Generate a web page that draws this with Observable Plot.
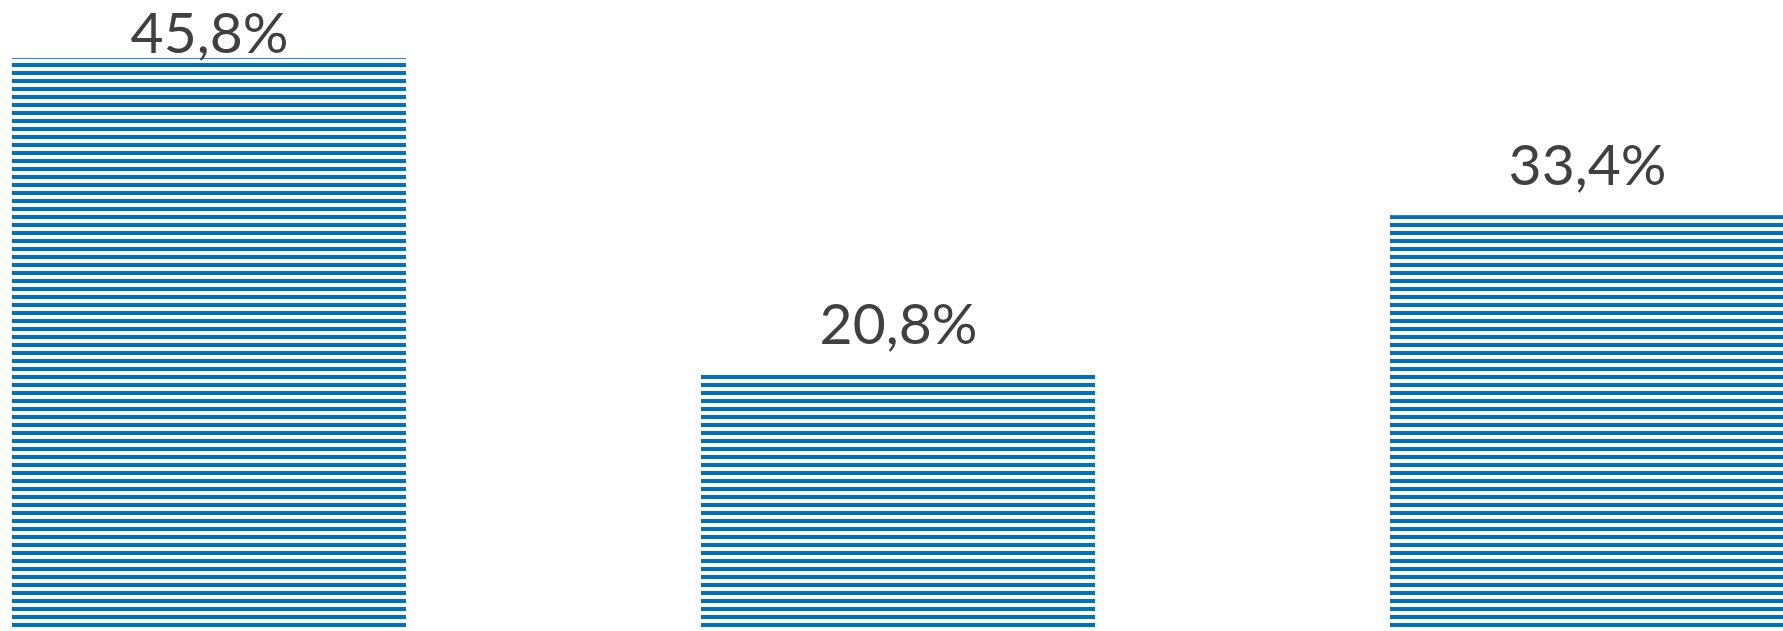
<!DOCTYPE html>
<html>
<head>
<meta charset="utf-8">
<script src="https://cdn.jsdelivr.net/npm/d3@7"></script>
<script src="https://cdn.jsdelivr.net/npm/@observablehq/plot@0.6"></script>
<style>
  html, body { margin: 0; padding: 0; background: #fff; overflow: hidden; }
  #chart svg { display: block; }
</style>
</head>
<body>
<div id="chart"></div>
<script>
// Data
const categories = ["A", "B", "C"];
const values = [45.8, 20.8, 33.4];
const labels = ["45,8%", "20,8%", "33,4%"];

const data = categories.map((c, i) => ({ category: c, value: values[i], label: labels[i] }));

const W = 1783, H = 631;
const yRange = [638, 638 - 50 * 12.66];
const yPx = v => yRange[0] + (yRange[1] - yRange[0]) * v / 50;
const fontSize = 57;
const capH = 41;
const gap = 31;
const fits = d => yPx(d.value) - gap - capH >= 0;

const chart = Plot.plot({
  width: W,
  height: H,
  margin: 0,
  style: { background: "#fff", overflow: "hidden" },
  x: { domain: categories, range: [11, 1784.4], paddingInner: 0.428, paddingOuter: 0, axis: null },
  y: { domain: [0, 50], range: yRange, axis: null },
  marks: [
    Plot.barY(data, { x: "category", y: "value", fill: "url(#stripes)" }),
    Plot.text(data.filter(fits), {
      x: "category", y: "value", text: "label",
      dy: -gap - 0.32 * fontSize, fontSize, fill: "#404040",
      fontFamily: "Lato, 'Open Sans', sans-serif"
    }),
    Plot.text(data.filter(d => !fits(d)), {
      x: "category", y: "value", text: "label",
      dy: -6 - 0.32 * fontSize, fontSize, fill: "#404040",
      fontFamily: "Lato, 'Open Sans', sans-serif"
    })
  ]
});

const ns = "http://www.w3.org/2000/svg";
const defs = document.createElementNS(ns, "defs");
const pat = document.createElementNS(ns, "pattern");
pat.setAttribute("id", "stripes");
pat.setAttribute("patternUnits", "userSpaceOnUse");
pat.setAttribute("width", "8");
pat.setAttribute("height", "8");
pat.setAttribute("patternTransform", "translate(0,375)");
const bg = document.createElementNS(ns, "rect");
bg.setAttribute("width", "8"); bg.setAttribute("height", "8"); bg.setAttribute("fill", "#ffffff");
const r = document.createElementNS(ns, "rect");
r.setAttribute("y", "0"); r.setAttribute("width", "8"); r.setAttribute("height", "4"); r.setAttribute("fill", "#0070C0");
pat.appendChild(bg); pat.appendChild(r);
defs.appendChild(pat);
chart.insertBefore(defs, chart.firstChild);

document.getElementById("chart").appendChild(chart);
</script>
</body>
</html>
